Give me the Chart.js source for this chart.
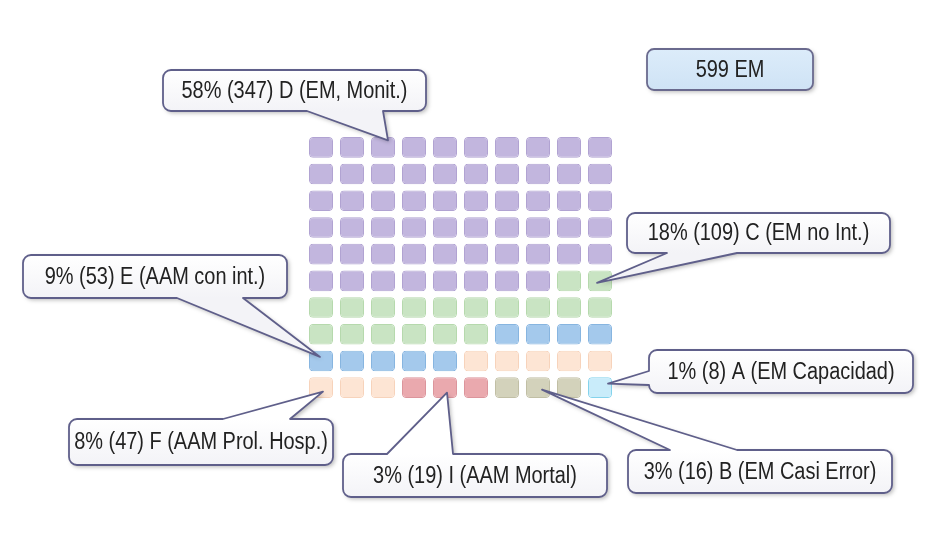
<!DOCTYPE html>
<html>
<head>
<meta charset="utf-8">
<script src="https://cdn.jsdelivr.net/npm/chart.js@4"></script>
<style>
  html, body { margin: 0; padding: 0; background: #ffffff; }
  #wrap { width: 950px; height: 533px; position: relative; }
</style>
</head>
<body>
<div id="wrap"><canvas id="c"></canvas></div>
<script>
// ---------------- data ----------------
const categories   = ['D', 'C', 'E', 'F', 'I', 'B', 'A'];
const percents     = [58, 18, 9, 8, 3, 3, 1];
const cases        = [347, 109, 53, 47, 19, 16, 8];
const descriptions = ['EM, Monit.', 'EM no Int.', 'AAM con int.', 'AAM Prol. Hosp.', 'AAM Mortal', 'EM Casi Error', 'EM Capacidad'];
const cellCounts   = [58, 18, 9, 8, 3, 3, 1];   // cells of the 10x10 waffle
const totalLabel   = '599 EM';
const columnLabels = ['1', '2', '3', '4', '5', '6', '7', '8', '9', '10'];
const rowLabels    = ['1', '2', '3', '4', '5', '6', '7', '8', '9', '10'];

// ---------------- styles ----------------
const fills   = ['#c2b6de', '#c9e4c3', '#a4c9ec', '#fde5d4', '#eaa9ae', '#d3d2bb', '#c9ecfa'];
const borders = ['#b1a3d2', '#b6d9ad', '#87b5e0', '#f7d3bb', '#dc959c', '#c1bfa5', '#84d3ec'];

// build cells row-major from top-left
const nCols = columnLabels.length;
let cursor = 0;
const datasets = categories.map((cat, i) => {
  const pts = [];
  for (let k = 0; k < cellCounts[i]; k++) {
    const idx = cursor + k;
    const col = idx % nCols, row = Math.floor(idx / nCols);
    pts.push({ x: columnLabels[col], y: [row + 0.115, row + 0.885], col: col, row: row });
  }
  cursor += cellCounts[i];
  return {
    label: cat,
    data: pts,
    backgroundColor: fills[i],
    borderColor: borders[i],
    borderWidth: 1,
    borderRadius: 4,
    borderSkipped: false,
    grouped: false,
    categoryPercentage: 1,
    barPercentage: 0.774
  };
});

// callout layout (pixels)
const callouts = [
  { cat: 0, box: [163, 70, 263, 41],  side: 'bottom', a: 307, b: 383, cell: 2, dx: 5,  dy: -7 },
  { cat: 1, box: [627, 213, 263, 40], side: 'bottom', a: 667, b: 737, cell: 1, dx: -3, dy: 2 },
  { cat: 2, box: [23, 255, 264, 43],  side: 'bottom', a: 177, b: 243, cell: 4, dx: -1, dy: -4 },
  { cat: 3, box: [69, 419, 264, 46],  side: 'top',    a: 223, b: 290, cell: 5, dx: 2,  dy: 4 },
  { cat: 4, box: [343, 454, 264, 43], side: 'top',    a: 387, b: 453, cell: 1, dx: 2,  dy: 5 },
  { cat: 5, box: [628, 450, 264, 43], side: 'top',    a: 670, b: 737, cell: 1, dx: 4,  dy: 2 },
  { cat: 6, box: [649, 350, 264, 43], side: 'left',   a: 371, b: 385, cell: 0, dx: 8,  dy: -4 }
];
const totalBox = [647, 49, 166, 41];

function calloutPath(ctx, box, r, w, tip) {
  const [x, y, bw, bh] = box;
  ctx.beginPath();
  ctx.moveTo(x + r, y);
  if (w && w.side === 'top') { ctx.lineTo(w.a, y); ctx.lineTo(tip.x, tip.y); ctx.lineTo(w.b, y); }
  ctx.arcTo(x + bw, y, x + bw, y + bh, r);
  ctx.arcTo(x + bw, y + bh, x, y + bh, r);
  if (w && w.side === 'bottom') { ctx.lineTo(w.b, y + bh); ctx.lineTo(tip.x, tip.y); ctx.lineTo(w.a, y + bh); }
  ctx.arcTo(x, y + bh, x, y, r);
  if (w && w.side === 'left') { ctx.lineTo(x, w.b); ctx.lineTo(tip.x, tip.y); ctx.lineTo(x, w.a); }
  ctx.arcTo(x, y, x + bw, y, r);
  ctx.closePath();
}

const FONT = '23px "Liberation Sans Narrow", "Arial Narrow", "Liberation Sans", Arial, sans-serif';
let textScale = null;

function drawLabel(ctx, text, box) {
  const [x, y, bw, bh] = box;
  ctx.save();
  ctx.font = FONT;
  ctx.fillStyle = '#222222';
  ctx.textBaseline = 'middle';
  ctx.textAlign = 'center';
  ctx.translate(x + bw / 2, y + bh / 2 + 1);
  ctx.scale(textScale, 1);
  ctx.fillText(text, 0, 0);
  ctx.restore();
}

const calloutPlugin = {
  id: 'callouts',
  afterDatasetsDraw(chart) {
    const ctx = chart.ctx;
    const xs = chart.scales.x, ys = chart.scales.y;
    ctx.save();
    ctx.font = FONT;
    if (textScale === null) {
      const ref = percents[0] + '% (' + cases[0] + ') ' + categories[0] + ' (' + descriptions[0] + ')';
      textScale = Math.min(1, 226 / ctx.measureText(ref).width);
    }
    callouts.forEach(c => {
      const pt = chart.data.datasets[c.cat].data[c.cell];
      const tip = {
        x: xs.getPixelForValue(pt.col) + c.dx,
        y: ys.getPixelForValue(pt.row + 0.5) + c.dy
      };
      const g = ctx.createLinearGradient(0, c.box[1], 0, c.box[1] + c.box[3]);
      g.addColorStop(0, '#ffffff');
      g.addColorStop(1, '#f3f3f7');
      ctx.save();
      ctx.shadowColor = 'rgba(0,0,0,0.28)';
      ctx.shadowBlur = 4;
      ctx.shadowOffsetX = 2;
      ctx.shadowOffsetY = 2;
      calloutPath(ctx, c.box, 8, c, tip);
      ctx.fillStyle = g;
      ctx.fill();
      ctx.restore();
      calloutPath(ctx, c.box, 8, c, tip);
      ctx.lineWidth = 1.8;
      ctx.strokeStyle = '#5f5f8a';
      ctx.lineJoin = 'round';
      ctx.stroke();
      const i = c.cat;
      drawLabel(ctx, percents[i] + '% (' + cases[i] + ') ' + categories[i] + ' (' + descriptions[i] + ')', c.box);
    });
    // total box
    const g2 = ctx.createLinearGradient(0, totalBox[1], 0, totalBox[1] + totalBox[3]);
    g2.addColorStop(0, '#dcecfa');
    g2.addColorStop(1, '#cfe3f5');
    ctx.save();
    ctx.shadowColor = 'rgba(0,0,0,0.28)';
    ctx.shadowBlur = 4;
    ctx.shadowOffsetX = 2;
    ctx.shadowOffsetY = 2;
    calloutPath(ctx, totalBox, 7, null, null);
    ctx.fillStyle = g2;
    ctx.fill();
    ctx.restore();
    calloutPath(ctx, totalBox, 7, null, null);
    ctx.lineWidth = 1.8;
    ctx.strokeStyle = '#6a6a8e';
    ctx.stroke();
    drawLabel(ctx, totalLabel, totalBox);
    ctx.restore();
  }
};

new Chart(document.getElementById('c'), {
  type: 'bar',
  data: { labels: columnLabels, datasets: datasets },
  options: {
    responsive: true,
    maintainAspectRatio: false,
    animation: false,
    layout: { padding: { left: 305.5, right: 334.5, top: 134, bottom: 132 } },
    plugins: { legend: { display: false }, tooltip: { enabled: false } },
    scales: {
      x: { type: 'category', display: false, offset: true, grid: { display: false } },
      y: { type: 'linear', display: false, reverse: true, min: 0, max: rowLabels.length }
    }
  },
  plugins: [calloutPlugin]
});
</script>
</body>
</html>
